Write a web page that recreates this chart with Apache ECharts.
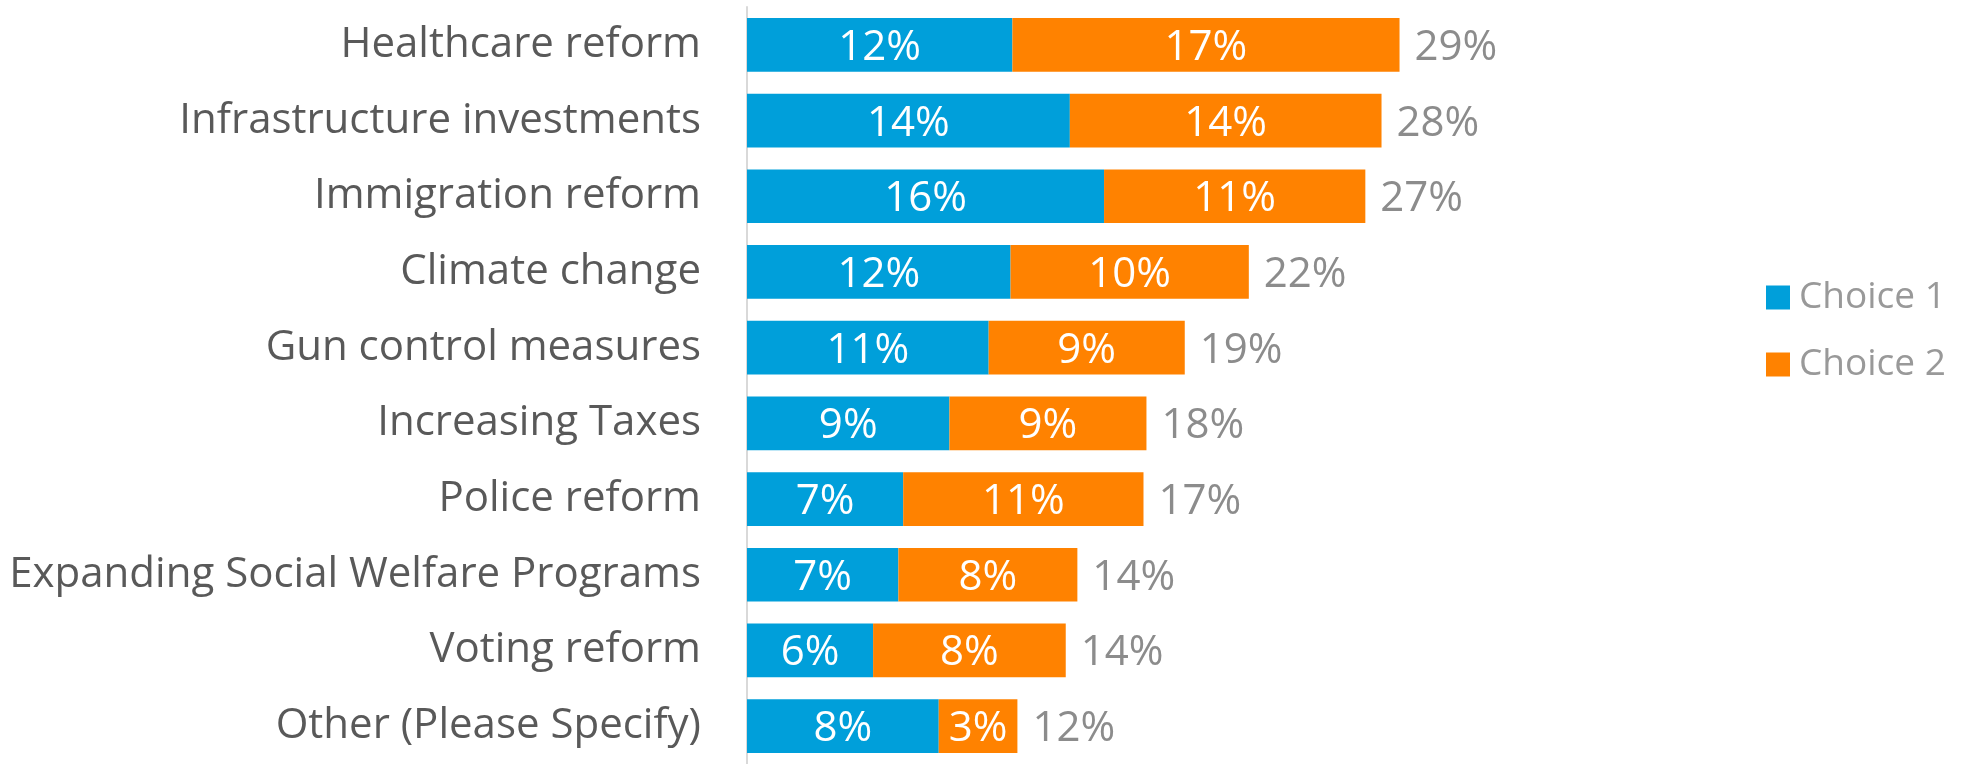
<!DOCTYPE html>
<html>
<head>
<meta charset="utf-8">
<script src="https://cdn.jsdelivr.net/npm/echarts@6/dist/echarts.min.js"></script>
<style>
  html, body { margin: 0; padding: 0; background: #fff; }
  #chart { width: 1961px; height: 764px; }
</style>
</head>
<body>
<div id="chart"></div>
<script>
// categories, top to bottom
var categories = ['Healthcare reform', 'Infrastructure investments', 'Immigration reform', 'Climate change',
  'Gun control measures', 'Increasing Taxes', 'Police reform', 'Expanding Social Welfare Programs',
  'Voting reform', 'Other (Please Specify)'];
// values (percent)
var choice1 = [11.64, 14.16, 15.66, 11.56, 10.6, 8.88, 6.85, 6.64, 5.53, 8.41];
var choice2 = [16.98, 13.67, 11.46, 10.45, 8.6, 8.64, 10.54, 7.85, 8.45, 3.45];

var totals = [];
for (var i = 0; i < choice1.length; i++) {
  totals.push(choice1[i] + choice2[i]);
}

var font = 'Open Sans';
function pct(p) { return Math.round(p.value) + '%'; }

var myChart = echarts.init(document.getElementById('chart'));
var option = {
  animation: false,
  grid: { left: 747, top: 7, width: 912, height: 768 },
  legend: {
    data: ['Choice 1', 'Choice 2'],
    orient: 'vertical',
    left: 1761,
    top: 274,
    icon: 'rect',
    itemWidth: 24,
    itemHeight: 24,
    itemGap: 30,
    textStyle: { fontFamily: font, fontSize: 37, color: '#999999', padding: [0, 0, 0, 4] }
  },
  xAxis: {
    type: 'value',
    min: 0,
    max: 40,
    show: false
  },
  yAxis: {
    type: 'category',
    inverse: true,
    data: categories,
    axisLine: { show: true, lineStyle: { color: '#d9d9d9', width: 2 } },
    axisTick: { show: false },
    axisLabel: { fontFamily: font, fontSize: 42, color: '#595959', margin: 46, padding: [6, 0, 0, 0] }
  },
  series: [
    {
      name: 'Choice 1',
      type: 'bar',
      stack: 'all',
      barCategoryGap: '29%',
      data: choice1,
      itemStyle: { color: '#009FDA' },
      label: { show: true, position: 'inside', offset: [0, 3], color: '#fff', fontFamily: font, fontSize: 42, formatter: pct }
    },
    {
      name: 'Choice 2',
      type: 'bar',
      stack: 'all',
      data: choice2,
      itemStyle: { color: '#FF8200' },
      label: { show: true, position: 'inside', offset: [0, 3], color: '#fff', fontFamily: font, fontSize: 42, formatter: pct }
    },
    {
      name: 'Total',
      type: 'bar',
      barGap: '-100%',
      data: totals,
      z: 1,
      silent: true,
      itemStyle: { color: 'rgba(0,0,0,0)' },
      label: { show: true, position: 'right', distance: 15, offset: [0, 3], color: '#8c8c8c', fontFamily: font, fontSize: 42, formatter: pct }
    }
  ]
};
myChart.setOption(option);
window.addEventListener('resize', function () {
  myChart.resize();
});
</script>
</body>
</html>
